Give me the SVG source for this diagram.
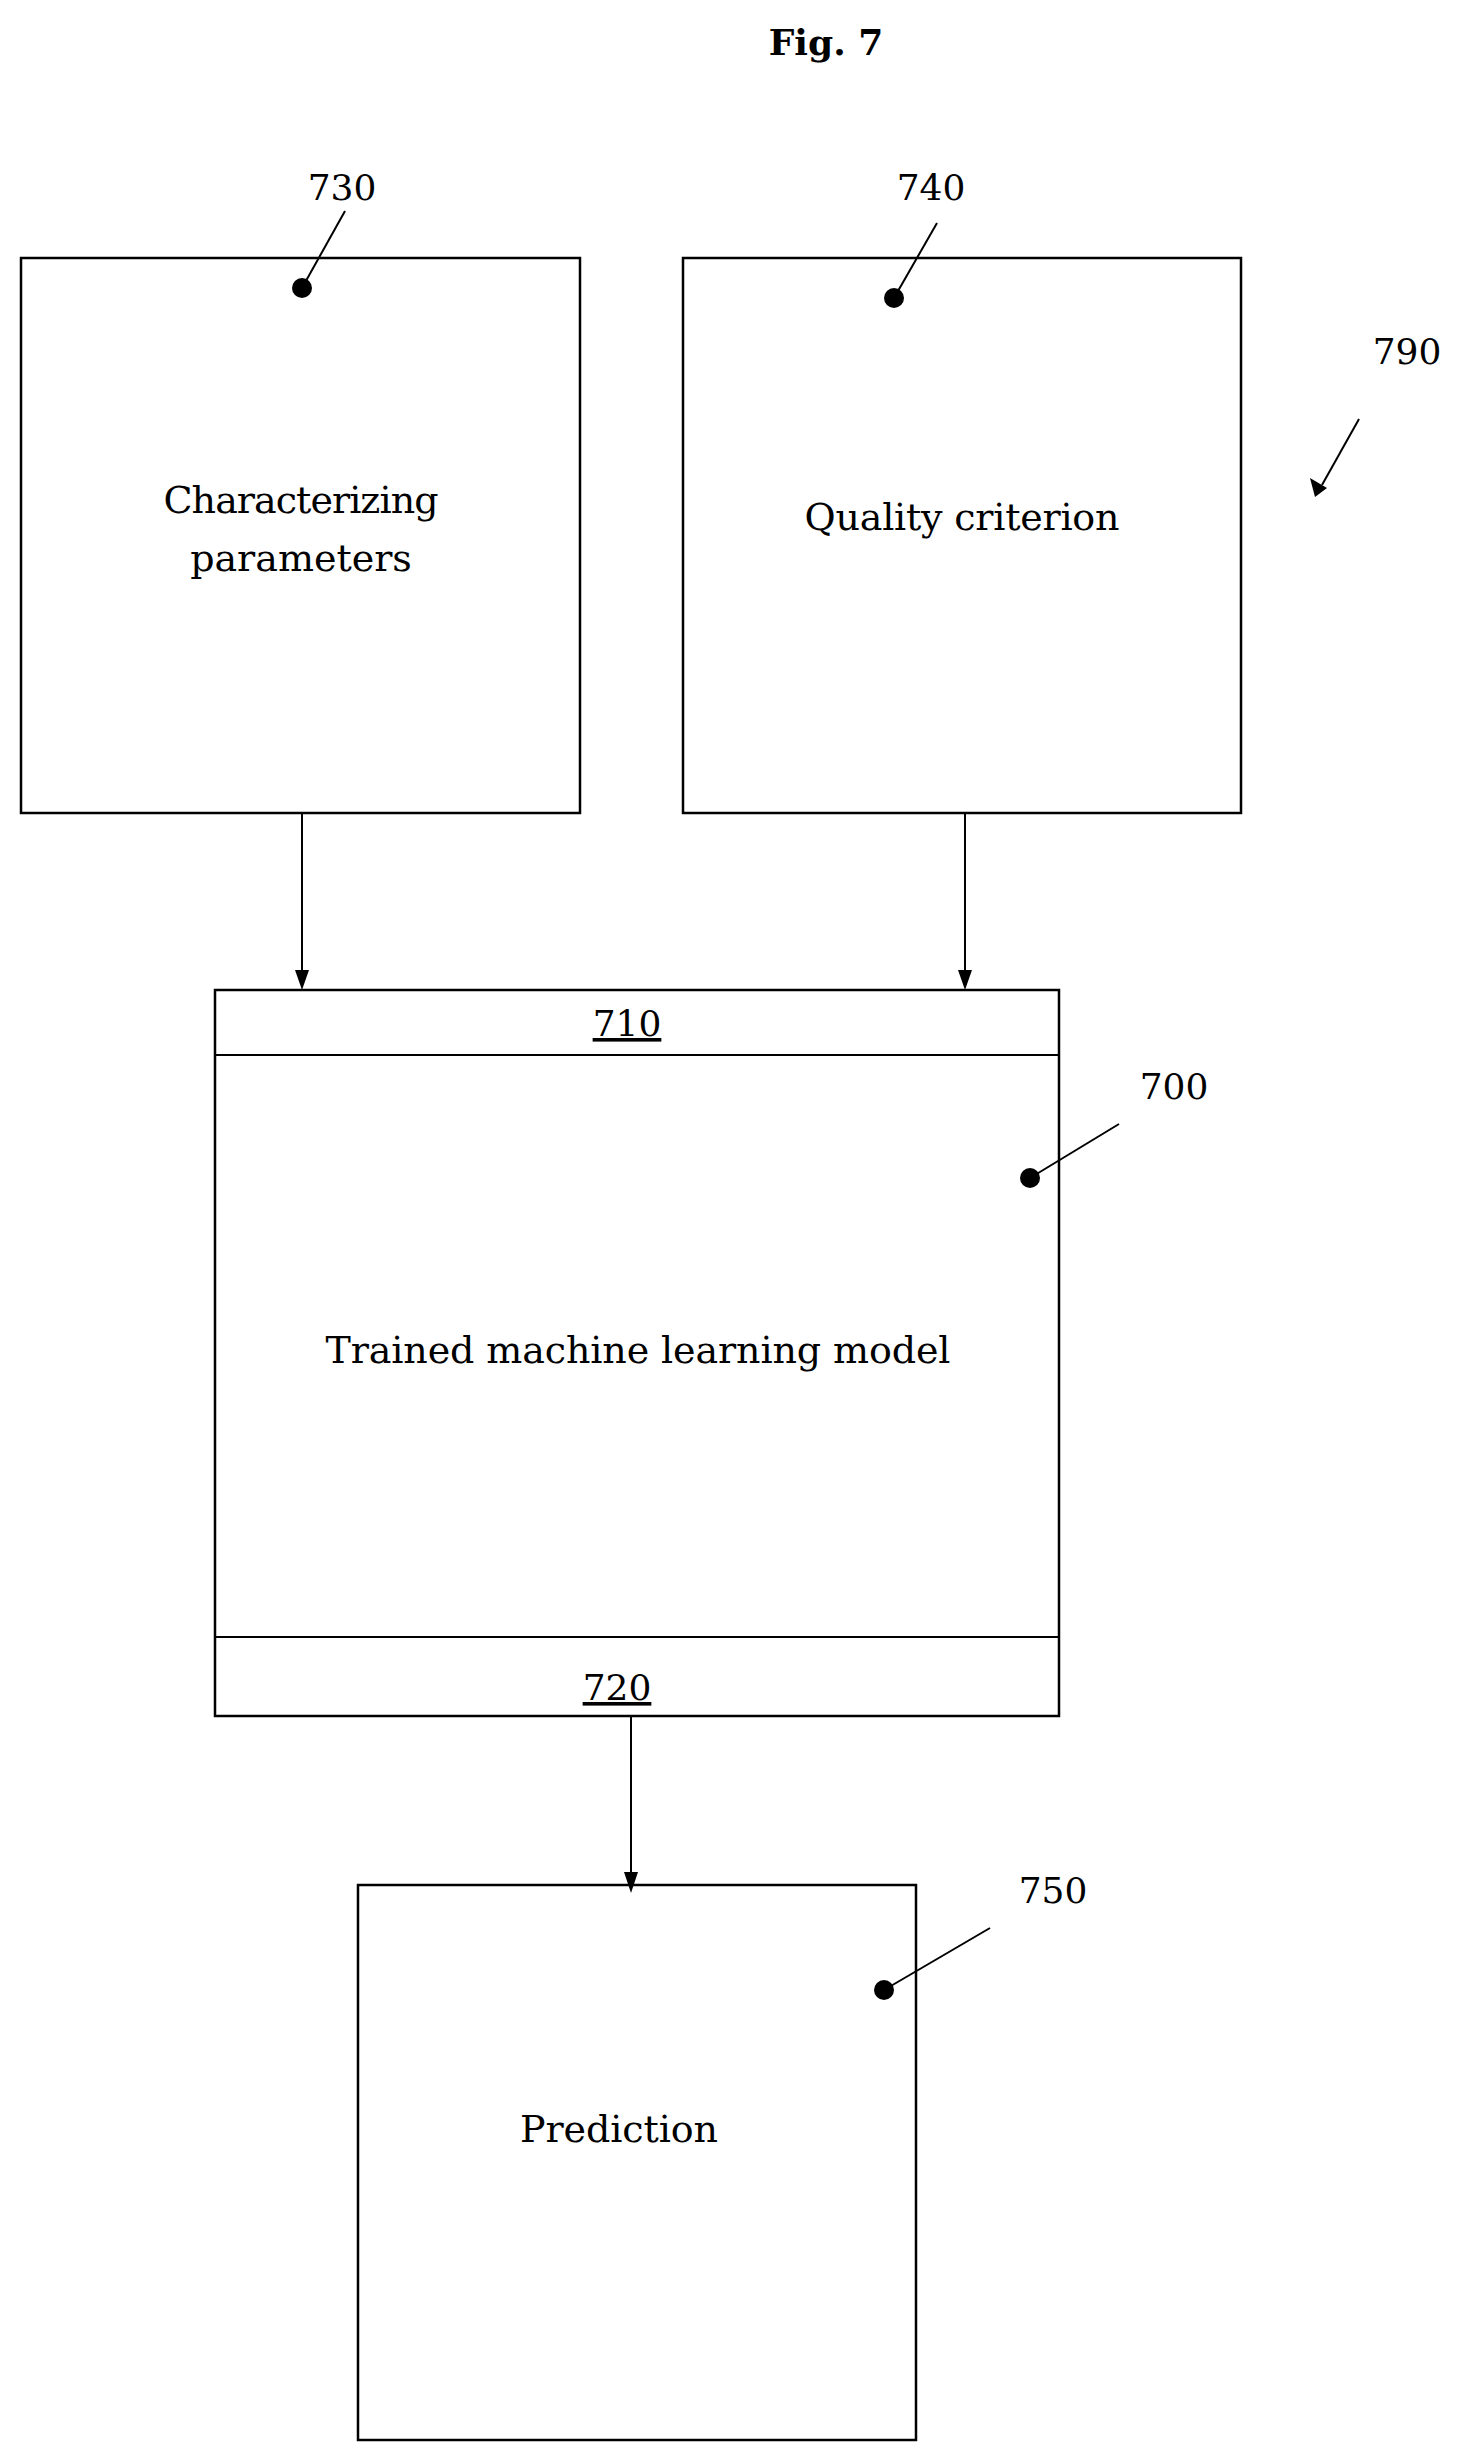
<svg xmlns="http://www.w3.org/2000/svg" width="1457" height="2462" viewBox="0 0 1457 2462">
<style>
.b{fill:#fff;stroke:#000;stroke-width:2.5}
.l{stroke:#000;stroke-width:2;fill:none}
text{font-family:"DejaVu Serif","Liberation Serif",serif;fill:#000}
.t{font-size:38px;text-anchor:middle}
.n{font-size:36px;text-anchor:middle}
</style>
<defs><marker id="a" markerWidth="12" markerHeight="14" refX="6" refY="13" orient="auto-start-reverse" markerUnits="userSpaceOnUse" viewBox="0 0 12 14"><path d="M0,0 L12,0 L6,14 Z" fill="#000" transform="rotate(0)"/></marker>
<marker id="d" markerWidth="14" markerHeight="18" refX="7" refY="18" orient="auto" markerUnits="userSpaceOnUse" viewBox="0 0 14 18"><path d="M0,0 L14,0 L7,18 Z" fill="#000" transform="rotate(-90 7 9) translate(0 0)"/></marker></defs>
<text x="826" y="55" font-size="36" font-weight="bold" text-anchor="middle">Fig. 7</text>
<g id="n730"><rect class="b" x="21" y="258" width="559" height="555"/>
<text class="t" x="301" y="513" textLength="275">Characterizing</text><text class="t" x="301" y="571">parameters</text>
<text class="n" x="342" y="200">730</text><line class="l" x1="345" y1="211" x2="302" y2="288"/><circle cx="302" cy="288" r="10"/></g>
<g id="n740"><rect class="b" x="683" y="258" width="558" height="555"/>
<text class="t" x="962" y="530" textLength="315">Quality criterion</text>
<text class="n" x="931" y="200">740</text><line class="l" x1="937" y1="223" x2="894" y2="298"/><circle cx="894" cy="298" r="10"/></g>
<g id="n790"><text class="n" x="1407" y="364">790</text></g>
<g id="n700"><rect class="b" x="215" y="990" width="844" height="726"/>
<line class="l" x1="215" y1="1055" x2="1059" y2="1055"/><line class="l" x1="215" y1="1637" x2="1059" y2="1637"/>
<text class="n" x="627" y="1036" text-decoration="underline">710</text>
<text class="n" x="617" y="1700" text-decoration="underline">720</text>
<text class="t" x="638" y="1363" textLength="625">Trained machine learning model</text>
<text class="n" x="1174" y="1099">700</text><line class="l" x1="1119" y1="1124" x2="1030" y2="1178"/><circle cx="1030" cy="1178" r="10"/></g>
<g id="n750"><rect class="b" x="358" y="1885" width="558" height="555"/>
<text class="t" x="619" y="2142" textLength="198">Prediction</text>
<text class="n" x="1053" y="1903">750</text><line class="l" x1="990" y1="1928" x2="884" y2="1990"/><circle cx="884" cy="1990" r="10"/></g>
<g id="connectors">
<line class="l" x1="302" y1="813" x2="302" y2="972"/><path d="M295,970 L309,970 L302,990 Z"/>
<line class="l" x1="965" y1="813" x2="965" y2="972"/><path d="M958,970 L972,970 L965,990 Z"/>
<line class="l" x1="631" y1="1716" x2="631" y2="1875"/><path d="M624,1872 L638,1872 L631,1893 Z"/>
<line class="l" x1="1359" y1="419" x2="1322" y2="485"/><path d="M1310,478 L1327,488 L1315,497 Z"/>
</g>
</svg>
